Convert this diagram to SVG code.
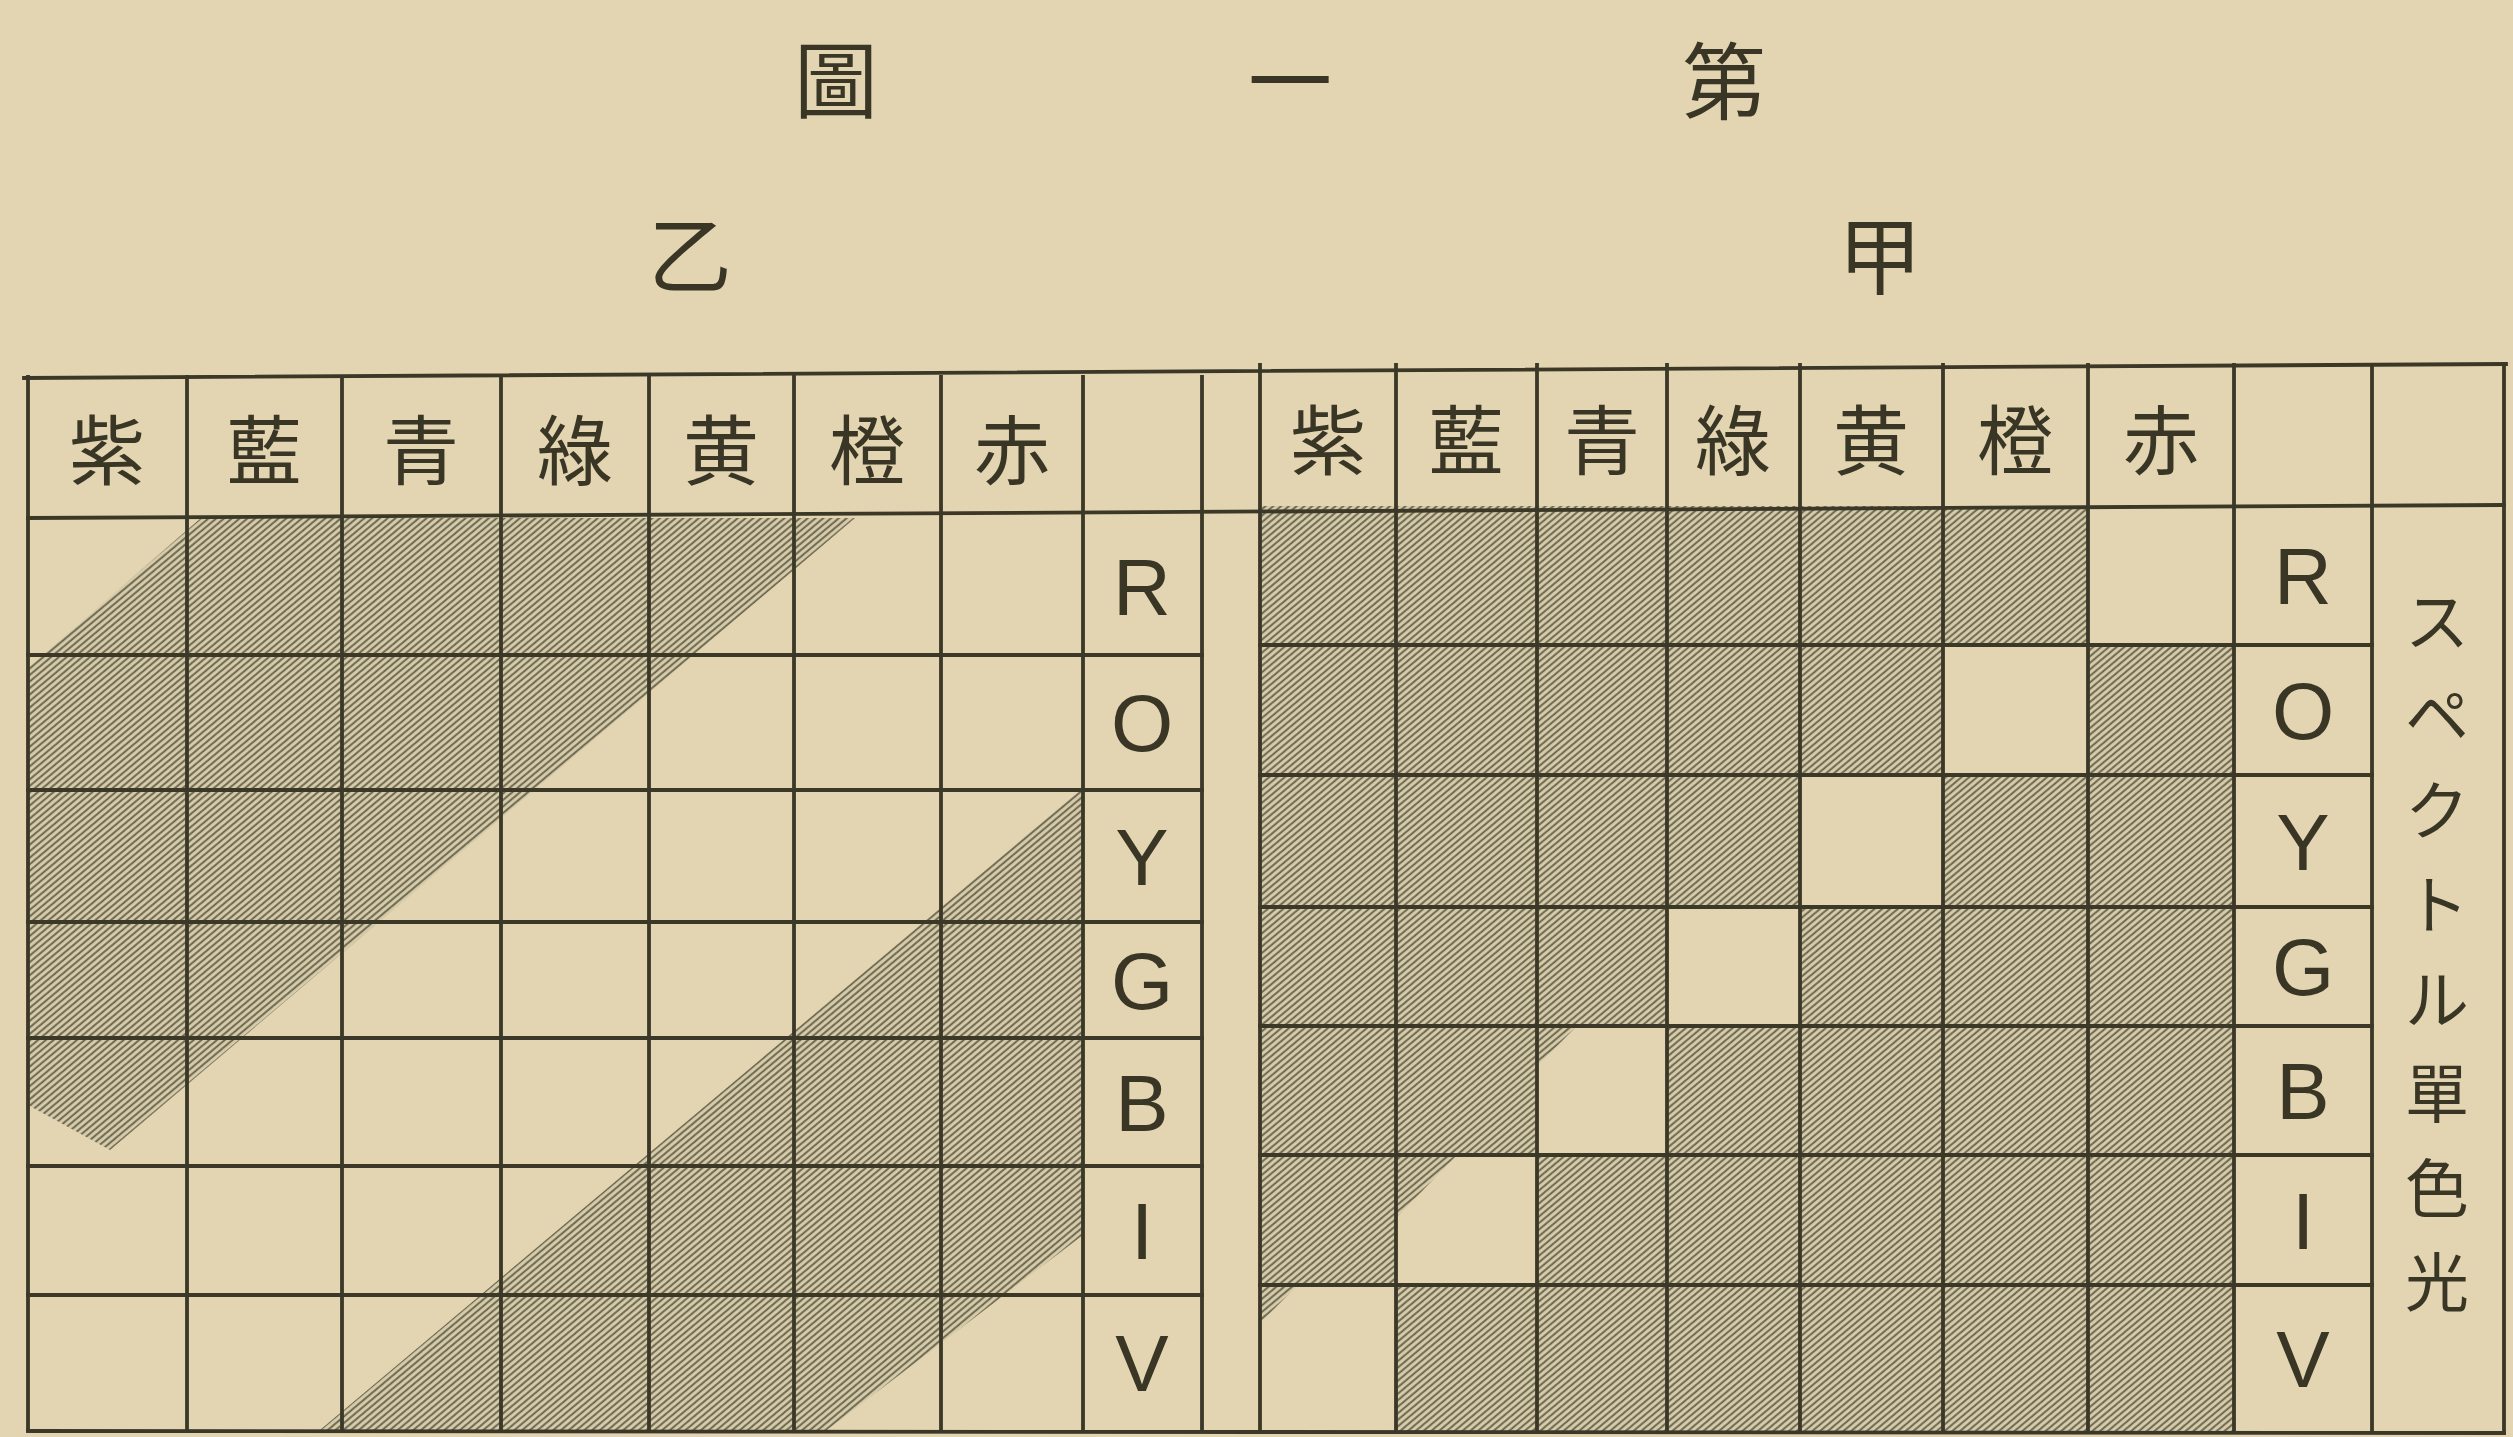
<svg xmlns="http://www.w3.org/2000/svg" width="2513" height="1437" viewBox="0 0 2513 1437">
<defs>
<pattern id="hatch" patternUnits="userSpaceOnUse" width="5" height="10" patternTransform="rotate(50)">
<rect width="5" height="10" fill="#d8cdab"/>
<line x1="1.2" y1="0" x2="1.2" y2="10" stroke="#66624c" stroke-width="1.9"/>
</pattern>
<style>
.g{stroke:#3b3828;stroke-width:3.8;fill:none;stroke-linecap:square}
.h{fill:url(#hatch)}
.w{fill:#e3d5b1}
.cj{font-family:"Noto Sans CJK JP","Noto Sans CJK SC",sans-serif;fill:#3a3626;text-anchor:middle;dominant-baseline:central}
.hd{font-size:76px}
.tt{font-size:84px}
.lt{font-family:"Liberation Sans",Arial,sans-serif;font-size:80px;fill:#3a3626;text-anchor:middle}
.vt{font-family:"Noto Sans CJK JP","Noto Sans CJK SC",sans-serif;fill:#3a3626;text-anchor:middle;font-size:64px}
</style>
</defs>
<rect width="2513" height="1437" fill="#e3d5b1"/>

<g id="title">
<text class="cj tt" x="836" y="75">圖</text>
<text class="cj tt" x="1290" y="75">一</text>
<text class="cj tt" x="1724" y="76">第</text>
<text class="cj tt" x="690" y="250">乙</text>
<text class="cj tt" x="1880" y="251">甲</text>
</g>

<g id="table-otsu">
<g id="otsu-shading">
<polygon class="h" points="201,518 855,518 110,1150 28,1105 28,668"/>
<polygon class="h" points="1083,788 1083,1235 827,1430 320,1430"/>
</g>
<g id="otsu-grid">
<path class="g" d="M28,377V1430M187,377V1430M342,377V1430M501,377V1430M649,377V1430M794,377V1430M941,377V1430M1083,377V1430M1202,377V1430"/>
<path class="g" d="M28,655H1202M28,790H1202M28,922H1202M28,1038H1202M28,1166H1202M28,1295H1202"/>
</g>
<g id="otsu-header">
<text class="cj hd" x="107" y="446">紫</text>
<text class="cj hd" x="264" y="446">藍</text>
<text class="cj hd" x="421" y="446">青</text>
<text class="cj hd" x="575" y="446">綠</text>
<text class="cj hd" x="721" y="446">黄</text>
<text class="cj hd" x="867" y="446">橙</text>
<text class="cj hd" x="1012" y="446">赤</text>
</g>
<g id="otsu-rows">
<text class="lt" x="1142" y="615">R</text>
<text class="lt" x="1142" y="751">O</text>
<text class="lt" x="1142" y="885">Y</text>
<text class="lt" x="1142" y="1009">G</text>
<text class="lt" x="1142" y="1131">B</text>
<text class="lt" x="1142" y="1259">I</text>
<text class="lt" x="1142" y="1391">V</text>
</g>
</g>

<g id="table-ko">
<g id="ko-shading">
<rect class="h" x="1260" y="506" width="974" height="926"/>
<rect class="w" x="2088" y="506" width="146" height="139"/>
<rect class="w" x="1943" y="645" width="145" height="130"/>
<rect class="w" x="1800" y="775" width="143" height="132"/>
<rect class="w" x="1667" y="907" width="133" height="119"/>
<polygon class="w" points="1577,1026 1667,1026 1667,1155 1537,1155 1537,1066"/>
<polygon class="w" points="1457,1155 1537,1155 1537,1285 1396,1285 1396,1218"/>
<polygon class="w" points="1298,1285 1396,1285 1396,1432 1260,1432 1260,1323"/>
</g>
<g id="ko-grid">
<path class="g" d="M1260,365V1432M1396,365V1432M1537,365V1432M1667,365V1432M1800,365V1432M1943,365V1432M2088,365V1432M2234,365V1432M2372,365V1432M2504,364V1433"/>
<path class="g" d="M1260,645H2372M1260,775H2372M1260,907H2372M1260,1026H2372M1260,1155H2372M1260,1285H2372"/>
</g>
<g id="ko-header">
<text class="cj hd" x="1328" y="436">紫</text>
<text class="cj hd" x="1466" y="436">藍</text>
<text class="cj hd" x="1602" y="436">青</text>
<text class="cj hd" x="1733" y="436">綠</text>
<text class="cj hd" x="1871" y="436">黄</text>
<text class="cj hd" x="2015" y="436">橙</text>
<text class="cj hd" x="2161" y="436">赤</text>
</g>
<g id="ko-rows">
<text class="lt" x="2303" y="604">R</text>
<text class="lt" x="2303" y="739">O</text>
<text class="lt" x="2303" y="870">Y</text>
<text class="lt" x="2303" y="995">G</text>
<text class="lt" x="2303" y="1119">B</text>
<text class="lt" x="2303" y="1249">I</text>
<text class="lt" x="2303" y="1387">V</text>
</g>
<g id="ko-label">
<text class="vt" x="2437" y="645">ス</text>
<text class="vt" x="2437" y="739">ペ</text>
<text class="vt" x="2437" y="834">ク</text>
<text class="vt" x="2437" y="928">ト</text>
<text class="vt" x="2437" y="1023">ル</text>
<text class="vt" x="2437" y="1117">單</text>
<text class="vt" x="2437" y="1212">色</text>
<text class="vt" x="2437" y="1306">光</text>
</g>
</g>

<g id="frame">
<path class="g" d="M24,378L2506,364M28,518L2504,505M28,1431L2504,1433"/>
</g>
</svg>
